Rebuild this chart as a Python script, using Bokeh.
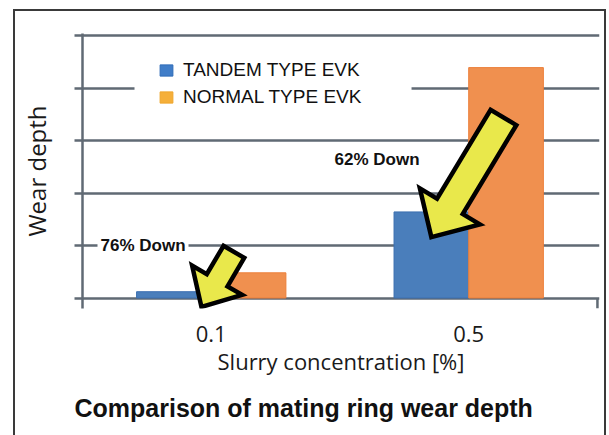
import math
from bokeh.plotting import figure
from bokeh.models import (Range1d, FixedTicker, Legend, LegendItem, Label,
                          BoxAnnotation, CustomJSTickFormatter, Title)
from bokeh.embed import file_html
from bokeh.resources import INLINE

# ---------------- data ----------------
categories = ["0.1", "0.5"]
series_names = ["TANDEM TYPE EVK", "NORMAL TYPE EVK"]
tandem = [0.12, 1.64]
normal = [0.48, 4.39]
grid_levels = [0, 1, 2, 3, 4, 5]

annot_text = ["76% Down", "62% Down"]
annot_x = [0.235, 1.144]
annot_y = [1.0, 2.63]

# arrows (tip and tail centre, data units)
arrow_tip_x = [0.462, 1.355]
arrow_tip_y = [-0.17, 1.16]
arrow_tail_x = [0.588, 1.635]
arrow_tail_y = [0.88, 3.44]
arrow_shaft_half = [12, 15]
arrow_head_half = [29, 35]
arrow_head_len = [31, 36]

# legend gap box (white) in data units
legend_box = dict(left=0.202, right=1.278, bottom=3.75, top=4.25)

# ---------------- layout ----------------
W, H = 609, 435
BL, BR, BT, BB = 82, 10, 33, 126
frame_w = W - BL - BR
frame_h = H - BT - BB
x0, x1 = 0.0, 2.008
y0, y1 = -0.2, 5.04
px_x = frame_w / (x1 - x0)
px_y = frame_h / (y1 - y0)

GRID = "#606a74"
FONT = "Open Sans"
SANS = "Liberation Sans"
BORDER = "#3a3a3a"

p = figure(width=W, height=H, x_range=Range1d(x0, x1), y_range=Range1d(y0, y1),
           output_backend="svg", toolbar_location=None,
           min_border_left=BL, min_border_right=BR, min_border_top=BT, min_border_bottom=BB)
p.outline_line_color = None
p.background_fill_color = "white"
p.border_fill_color = None
p.styles = {
    "background-color": "white",
    "background-image": ", ".join([f"linear-gradient({BORDER},{BORDER})"] * 3),
    "background-size": "2px 100%, 592px 2px, 2px 100%",
    "background-position": "13px 9px, 13px 9px, 604px 9px",
    "background-repeat": "no-repeat",
}

# grid
p.xgrid.visible = False
p.ygrid.ticker = FixedTicker(ticks=grid_levels)
p.ygrid.grid_line_color = GRID
p.ygrid.grid_line_width = 2.5

# y axis
ya = p.yaxis[0]
ya.ticker = FixedTicker(ticks=grid_levels)
ya.formatter = CustomJSTickFormatter(code="return ''")
ya.major_tick_out = 8
ya.major_tick_in = 0
ya.minor_tick_line_color = None
ya.major_tick_line_color = GRID
ya.major_tick_line_width = 2.5
ya.axis_line_color = GRID
ya.axis_line_width = 2.5
ya.major_label_standoff = 0
ya.axis_label = "Wear depth"
ya.axis_label_text_font = FONT
ya.axis_label_text_font_size = "24px"
ya.axis_label_text_font_style = "normal"
ya.axis_label_text_color = "#1a1a1a"
ya.axis_label_standoff = 22

# x axis
positions = [i + 0.5 for i in range(len(categories))]
xa = p.xaxis[0]
xa.ticker = FixedTicker(ticks=positions)
xa.major_label_overrides = {pos: c for pos, c in zip(positions, categories)}
xa.major_tick_out = 0
xa.major_tick_in = 0
xa.minor_tick_line_color = None
xa.axis_line_color = None
xa.major_label_text_font = FONT
xa.major_label_text_font_size = "22px"
xa.major_label_text_color = "#1a1a1a"
xa.major_label_standoff = 17
xa.axis_label = "Slurry concentration [%]"
xa.axis_label_text_font = FONT
xa.axis_label_text_font_size = "22px"
xa.axis_label_text_font_style = "normal"
xa.axis_label_text_color = "#1a1a1a"
xa.axis_label_standoff = 1

# baseline end tick on right
p.segment(x0=[2.0], y0=[0.0], x1=[2.0], y1=[y0], line_color=GRID, line_width=2.5)

# bars
bw = 0.29
p.vbar(x=[c - bw / 2 for c in positions], top=tandem, width=bw, bottom=0,
       fill_color="#4A7EBB", line_color="#3B6FB0", line_width=1)
p.vbar(x=[c + bw / 2 for c in positions], top=normal, width=bw, bottom=0,
       fill_color="#F0904F", line_color="#EC7F3A", line_width=1)

# arrows
def arrow_poly(tx, ty, cx, cy, ws, wh, lh):
    TX, TY = tx * px_x, ty * px_y
    CX, CY = cx * px_x, cy * px_y
    dx, dy = TX - CX, TY - CY
    L = math.hypot(dx, dy)
    ux, uy = dx / L, dy / L
    nx, ny = -uy, ux
    BX, BY = TX - lh * ux, TY - lh * uy
    pts = [(TX, TY), (BX + wh * nx, BY + wh * ny), (BX + ws * nx, BY + ws * ny),
           (CX + ws * nx, CY + ws * ny), (CX - ws * nx, CY - ws * ny),
           (BX - ws * nx, BY - ws * ny), (BX - wh * nx, BY - wh * ny)]
    return [q[0] / px_x for q in pts], [q[1] / px_y for q in pts]

xs, ys = [], []
for i in range(len(arrow_tip_x)):
    ax, ay = arrow_poly(arrow_tip_x[i], arrow_tip_y[i], arrow_tail_x[i], arrow_tail_y[i],
                        arrow_shaft_half[i], arrow_head_half[i], arrow_head_len[i])
    xs.append(ax)
    ys.append(ay)
p.patches(xs=xs, ys=ys, fill_color="#E9E84B", line_color="black", line_width=4.5,
          line_join="miter")

# white gap behind the legend
p.add_layout(BoxAnnotation(left=legend_box["left"], right=legend_box["right"],
                           bottom=legend_box["bottom"], top=legend_box["top"],
                           fill_color="white", fill_alpha=1.0, line_color=None, level="underlay"))

# legend swatches (one point each, outside the visible range)
sw1 = p.vbar(x=[-10], top=[1], width=0.1, fill_color="#407DC8", line_color="#2F6CB8", line_width=1)
sw2 = p.vbar(x=[-10], top=[1], width=0.1, fill_color="#F5AF3A", line_color="#EEA52C", line_width=1)
legend = Legend(items=[LegendItem(label=series_names[0], renderers=[sw1]),
                       LegendItem(label=series_names[1], renderers=[sw2])],
                location=(76, 198), orientation="vertical")
legend.background_fill_color = None
legend.border_line_color = None
legend.padding = 0
legend.margin = 0
legend.spacing = 0
legend.glyph_width = 16
legend.glyph_height = 14
legend.label_height = 27
legend.label_standoff = 9
legend.label_text_font = SANS
legend.label_text_font_size = "19px"
legend.label_text_color = "#111111"
p.add_layout(legend)

# annotations
for i in range(len(annot_text)):
    p.add_layout(Label(x=annot_x[i], y=annot_y[i], text=annot_text[i],
                       text_align="center", text_baseline="middle",
                       text_font=SANS, text_font_style="bold",
                       text_font_size="17px", text_color="#111111",
                       background_fill_color="white", padding=3))

# title below
p.add_layout(Title(text="Comparison of mating ring wear depth", align="left", offset=-8,
                   text_font=SANS, text_font_size="25px",
                   text_font_style="bold", text_color="#111111", standoff=27), "below")

open("out.html", "w").write(file_html(p, INLINE))
